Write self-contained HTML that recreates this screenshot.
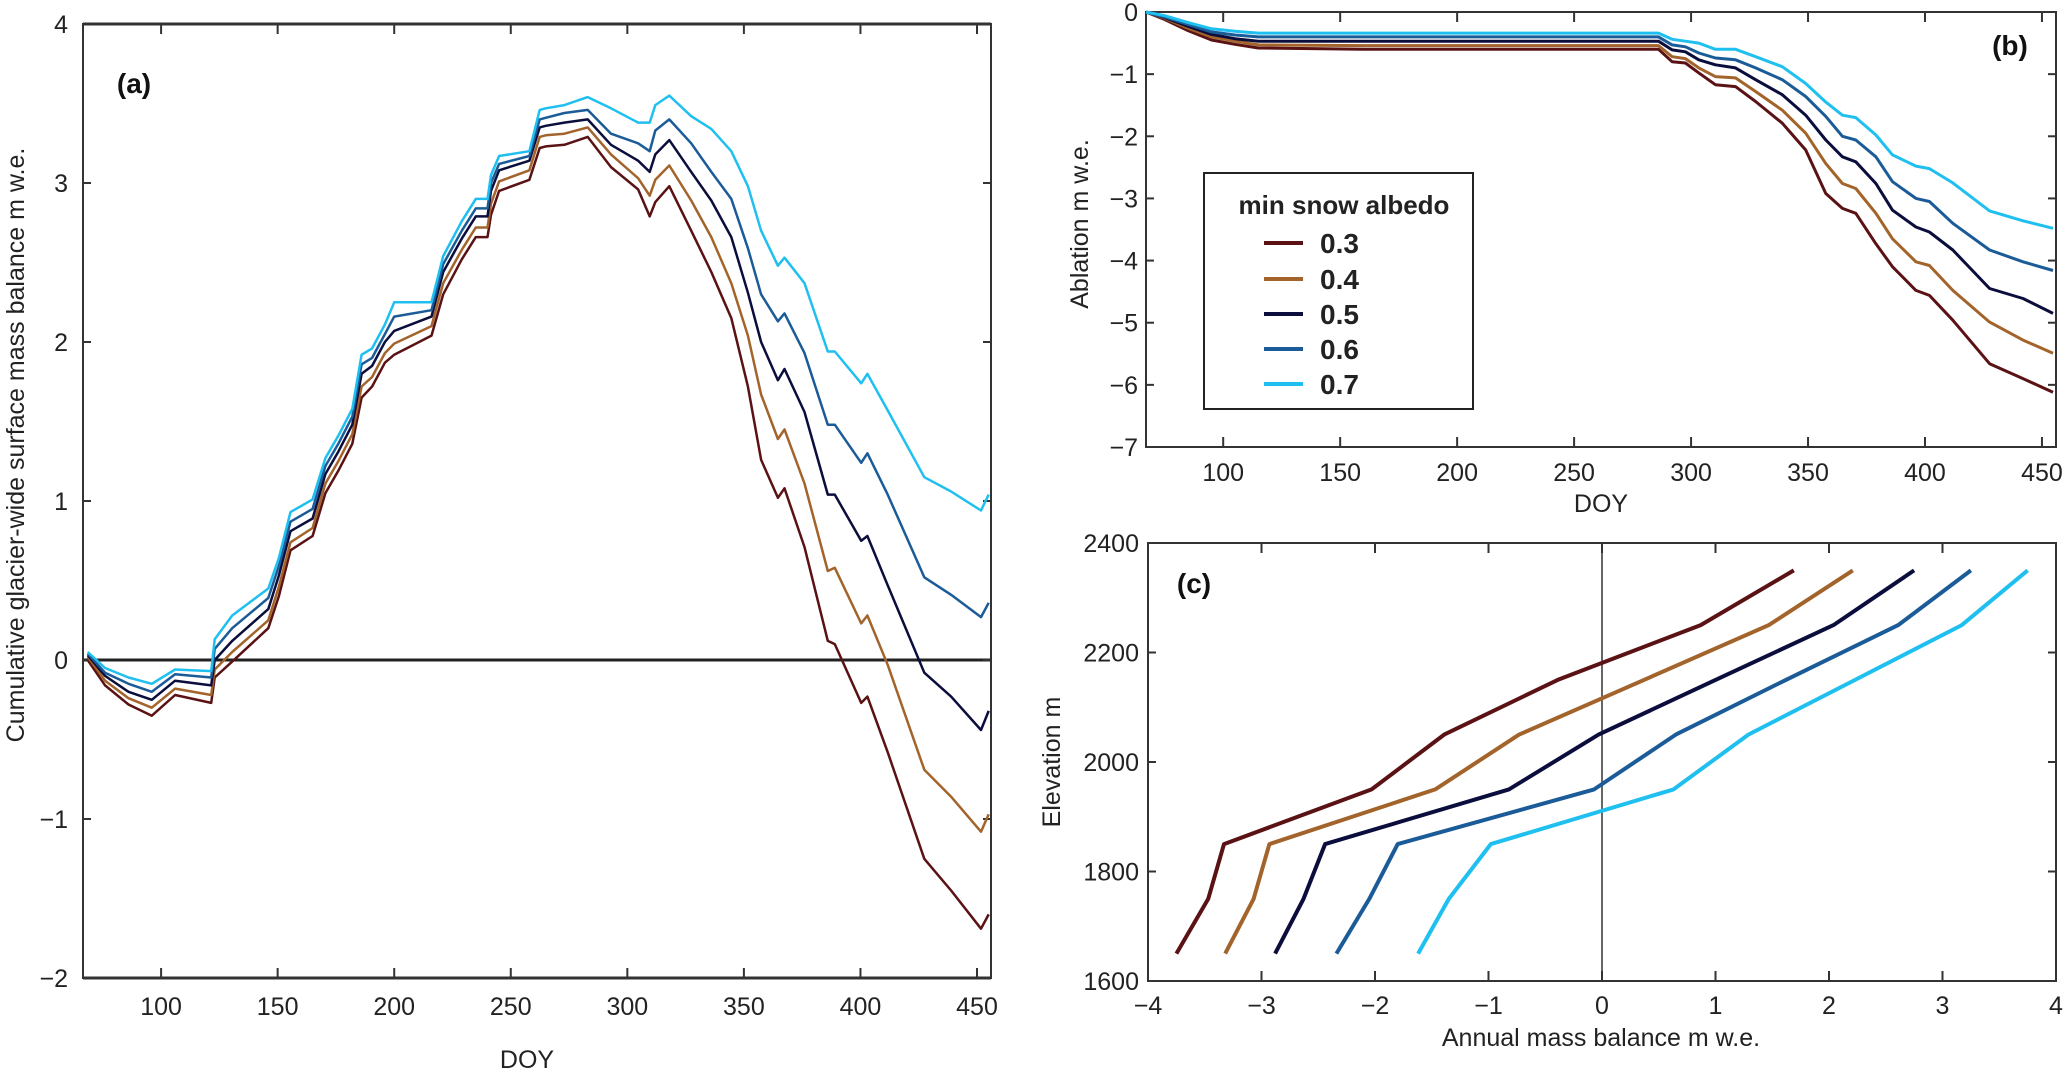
<!DOCTYPE html>
<html><head><meta charset="utf-8"><style>
html,body{margin:0;padding:0;background:#fff;}
svg{display:block;font-family:"Liberation Sans",Arial,sans-serif;}
.tk{font-size:25px;fill:#222;}
.ttl{font-size:25px;fill:#222;}
.pl{font-size:28px;font-weight:bold;fill:#111;}
</style></head><body>
<svg id="fig" width="2067" height="1080" viewBox="0 0 2067 1080"></svg>
<script>
// ---- data ----
const albedos = ["0.3","0.4","0.5","0.6","0.7"];
const colors = ["#5a1214","#a3642c","#0b0e3c","#1b5c98","#1fc0f0"];
// panel (a)
const doyA = [68.5,76,86,96,106,121.5,123,130.5,146,150.5,155.5,165,170.5,176,182,186,190.5,196,200,216,221,229,235,240,241.5,245,258,262.4,265,273,283,293,304.6,309.6,312,318,327.4,336,344.6,351.7,357.4,364.6,367.4,376,386,389,400.3,403,411.7,427.4,438.9,451.7,455];
const mbA03 = [0.0,-0.16,-0.28,-0.35,-0.22,-0.27,-0.11,-0.01,0.2,0.4,0.69,0.78,1.05,1.19,1.36,1.65,1.72,1.87,1.92,2.04,2.3,2.52,2.66,2.66,2.8,2.95,3.02,3.22,3.23,3.24,3.29,3.1,2.96,2.79,2.88,2.98,2.7,2.44,2.15,1.72,1.26,1.02,1.08,0.71,0.12,0.1,-0.27,-0.23,-0.58,-1.25,-1.45,-1.69,-1.6];
const mbA04 = [0.02,-0.13,-0.24,-0.3,-0.18,-0.22,-0.06,0.05,0.25,0.46,0.74,0.83,1.11,1.25,1.42,1.72,1.78,1.93,1.99,2.1,2.37,2.58,2.72,2.72,2.87,3.01,3.08,3.29,3.3,3.31,3.35,3.18,3.03,2.92,3.02,3.11,2.89,2.66,2.37,2.04,1.67,1.39,1.45,1.11,0.56,0.58,0.23,0.28,-0.03,-0.69,-0.86,-1.08,-0.97];
const mbA05 = [0.03,-0.1,-0.2,-0.25,-0.13,-0.16,0.0,0.12,0.32,0.53,0.81,0.89,1.17,1.31,1.48,1.8,1.85,2.0,2.07,2.16,2.44,2.65,2.79,2.79,2.95,3.08,3.14,3.35,3.36,3.38,3.4,3.24,3.14,3.07,3.18,3.27,3.07,2.89,2.66,2.31,2.0,1.76,1.83,1.56,1.04,1.04,0.75,0.78,0.47,-0.08,-0.23,-0.44,-0.32];
const mbA06 = [0.04,-0.08,-0.15,-0.2,-0.09,-0.11,0.07,0.2,0.39,0.59,0.87,0.95,1.22,1.36,1.53,1.86,1.9,2.05,2.16,2.2,2.49,2.7,2.84,2.84,3.0,3.12,3.17,3.4,3.41,3.44,3.46,3.31,3.25,3.2,3.33,3.4,3.25,3.07,2.9,2.59,2.3,2.13,2.18,1.93,1.48,1.48,1.24,1.3,1.04,0.52,0.41,0.27,0.36];
const mbA07 = [0.05,-0.05,-0.11,-0.15,-0.06,-0.07,0.13,0.28,0.45,0.64,0.93,1.01,1.27,1.41,1.58,1.92,1.96,2.11,2.25,2.25,2.54,2.76,2.9,2.9,3.05,3.17,3.2,3.46,3.47,3.49,3.54,3.47,3.38,3.38,3.49,3.55,3.42,3.34,3.2,2.98,2.7,2.48,2.53,2.37,1.94,1.94,1.74,1.8,1.57,1.15,1.06,0.94,1.04];
// panel (b)
const doyB = [67,75,85,95,105,115,160,260.4,286.1,291.9,297.6,303.3,310.4,319,327.6,339,349,357.6,364.7,370.4,379,386.1,396.1,401.9,411.9,427.6,441.9,454.7];
const abB03 = [0,-0.12,-0.3,-0.45,-0.52,-0.58,-0.6,-0.6,-0.6,-0.8,-0.82,-0.98,-1.17,-1.2,-1.44,-1.79,-2.22,-2.92,-3.16,-3.24,-3.73,-4.1,-4.48,-4.56,-4.96,-5.66,-5.9,-6.12];
const abB04 = [0,-0.1,-0.26,-0.4,-0.47,-0.53,-0.54,-0.54,-0.54,-0.72,-0.75,-0.9,-1.04,-1.06,-1.28,-1.58,-1.95,-2.44,-2.76,-2.84,-3.24,-3.65,-4.02,-4.08,-4.48,-4.99,-5.28,-5.49];
const abB05 = [0,-0.09,-0.23,-0.36,-0.43,-0.47,-0.47,-0.47,-0.47,-0.61,-0.64,-0.77,-0.85,-0.9,-1.09,-1.33,-1.66,-2.06,-2.33,-2.41,-2.76,-3.19,-3.46,-3.54,-3.83,-4.45,-4.61,-4.85];
const abB06 = [0,-0.08,-0.2,-0.32,-0.37,-0.4,-0.4,-0.4,-0.4,-0.53,-0.56,-0.66,-0.74,-0.77,-0.9,-1.09,-1.36,-1.68,-2.0,-2.06,-2.33,-2.73,-3.0,-3.05,-3.4,-3.83,-4.02,-4.16];
const abB07 = [0,-0.06,-0.17,-0.27,-0.31,-0.34,-0.34,-0.34,-0.34,-0.44,-0.47,-0.5,-0.6,-0.6,-0.72,-0.88,-1.15,-1.45,-1.66,-1.7,-1.98,-2.3,-2.48,-2.52,-2.75,-3.2,-3.36,-3.48];
// panel (c)
const elevC = [1650,1750,1850,1950,2050,2150,2250,2350];
const mbC03 = [-3.75,-3.47,-3.33,-2.03,-1.39,-0.39,0.87,1.69];
const mbC04 = [-3.32,-3.07,-2.93,-1.47,-0.73,0.37,1.47,2.21];
const mbC05 = [-2.88,-2.63,-2.44,-0.82,-0.03,1.0,2.04,2.75];
const mbC06 = [-2.34,-2.05,-1.8,-0.07,0.65,1.62,2.61,3.25];
const mbC07 = [-1.62,-1.35,-0.98,0.63,1.29,2.23,3.17,3.75];
// ticks
const xTicksDOY = [100,150,200,250,300,350,400,450];
const yTicksA = [-2,-1,0,1,2,3,4];
const yTicksB = [-7,-6,-5,-4,-3,-2,-1,0];
const xTicksC = [-4,-3,-2,-1,0,1,2,3,4];
const xTickLabelsC = ["\u22124","\u22123","\u22122","\u22121","0","1","2","3","4"];
const yTicksC = [1600,1800,2000,2200,2400];

const NS="http://www.w3.org/2000/svg";
const svg=document.getElementById('fig');
function mk(tag,attrs,parent){const e=document.createElementNS(NS,tag);for(const k in attrs)e.setAttribute(k,attrs[k]);(parent||svg).appendChild(e);return e;}
function lin(d0,d1,r0,r1){return v=>r0+(v-d0)*(r1-r0)/(d1-d0);}
function fmt(v){return v<0?"\u2212"+Math.abs(v):String(v);}

function panel(name,box,xd,yd){
  const g=mk('g',{});
  
  
  const sx=lin(xd[0],xd[1],box.l,box.r), sy=lin(yd[0],yd[1],box.b,box.t);
  const f=mk('rect',{x:box.l,y:box.t,width:box.r-box.l,height:box.b-box.t,fill:'none',stroke:'#333','stroke-width':2},g);
  
  
  return {g,sx,sy,box};
}
function xticks(P,ticks,labels,ly,nm){
  const ax=mk('g',{},P.g);
  
  
  ticks.forEach((t,i)=>{const x=P.sx(t);
    mk('line',{x1:x,x2:x,y1:P.box.b,y2:P.box.b-10,stroke:'#333','stroke-width':2},ax);
    mk('line',{x1:x,x2:x,y1:P.box.t,y2:P.box.t+10,stroke:'#333','stroke-width':2},ax);
    const tx=mk('text',{x:x,y:ly,'text-anchor':'middle',class:'tk'},ax);tx.textContent=labels[i];});
}
function yticks(P,ticks,labels,lx,nm){
  const ax=mk('g',{},P.g);
  
  
  ticks.forEach((t,i)=>{const y=P.sy(t);
    mk('line',{x1:P.box.l,x2:P.box.l+8,y1:y,y2:y,stroke:'#333','stroke-width':2},ax);
    mk('line',{x1:P.box.r,x2:P.box.r-8,y1:y,y2:y,stroke:'#333','stroke-width':2},ax);
    const tx=mk('text',{x:lx,y:y+9,'text-anchor':'end',class:'tk'},ax);tx.textContent=labels[i];});
}
function series(P,xs,ys,color,w,nm){
  const pts=xs.map((x,i)=>P.sx(x).toFixed(1)+','+P.sy(ys[i]).toFixed(1)).join(' ');
  const pl=mk('polyline',{points:pts,fill:'none',stroke:color,'stroke-width':w,'stroke-linejoin':'round'},P.g);
  
  
}
function label(txt,x,y,cls,nm,rot){
  const t=mk('text',{x:x,y:y,'text-anchor':'middle',class:cls});
  if(rot)t.setAttribute('transform','rotate(-90 '+x+' '+y+')');
  t.textContent=txt;
  
  
}

// Panel a
const A=panel('panel-a',{l:83,r:991,t:24,b:978},[66.5,456],[-2,4]);
const z=mk('line',{x1:83,x2:991,y1:A.sy(0),y2:A.sy(0),stroke:'#222','stroke-width':3},A.g);


mk('line',{x1:83,x2:991,y1:24,y2:24,stroke:'#333','stroke-width':3},A.g);
mk('line',{x1:83,x2:991,y1:978,y2:978,stroke:'#333','stroke-width':3},A.g);
xticks(A,xTicksDOY,xTicksDOY.map(String),1015,'x-axis-a');
yticks(A,yTicksA,yTicksA.map(fmt),68,'y-axis-a');
[mbA03,mbA04,mbA05,mbA06,mbA07].forEach((s,i)=>series(A,doyA,s,colors[i],2.5,'series-a-'+albedos[i]));
label('DOY',527,1068,'ttl','x-axis-title-a');
label('Cumulative glacier-wide surface mass balance m w.e.',24,445,'ttl','y-axis-title-a',true);
label('(a)',134,93,'pl','panel-label-a');

// Panel b
const B=panel('panel-b',{l:1146,r:2056,t:12,b:447},[67,456],[-7,0]);
xticks(B,xTicksDOY.slice(0,8),xTicksDOY.map(String),481,'x-axis-b');
yticks(B,yTicksB,yTicksB.map(fmt),1138,'y-axis-b');
[abB03,abB04,abB05,abB06,abB07].forEach((s,i)=>series(B,doyB,s,colors[i],3,'series-b-'+albedos[i]));
label('DOY',1601,512,'ttl','x-axis-title-b');
label('Ablation m w.e.',1088,224,'ttl','y-axis-title-b',true);
label('(b)',2010,55,'pl','panel-label-b');

// legend
const lg=mk('g',{});


mk('rect',{x:1204,y:173,width:269,height:236,fill:'#fff',stroke:'#222','stroke-width':2},lg);
const lt=mk('text',{x:1344,y:214,'text-anchor':'middle','font-size':'26','font-weight':'bold',fill:'#222'},lg);
lt.textContent='min snow albedo';


const legY=[243,279,314,349,384];
albedos.forEach((a,i)=>{
  const e=mk('g',{},lg);
  
  
  mk('line',{x1:1264,x2:1303,y1:legY[i],y2:legY[i],stroke:colors[i],'stroke-width':4},e);
  const t=mk('text',{x:1320,y:legY[i]+10,'font-size':'28','font-weight':'bold',fill:'#222'},e);t.textContent=a;
});

// Panel c
const C=panel('panel-c',{l:1148,r:2056,t:543,b:981},[-4,4],[1600,2400]);
const v0=mk('line',{x1:C.sx(0),x2:C.sx(0),y1:543,y2:981,stroke:'#333','stroke-width':1.5},C.g);


xticks(C,xTicksC,xTickLabelsC,1014,'x-axis-c');
yticks(C,yTicksC,yTicksC.map(String),1139,'y-axis-c');
[mbC03,mbC04,mbC05,mbC06,mbC07].forEach((s,i)=>series(C,s,elevC,colors[i],4,'series-c-'+albedos[i]));
label('Annual mass balance m w.e.',1601,1046,'ttl','x-axis-title-c');
label('Elevation m',1060,762,'ttl','y-axis-title-c',true);
label('(c)',1194,593,'pl','panel-label-c');
</script>
</body></html>
